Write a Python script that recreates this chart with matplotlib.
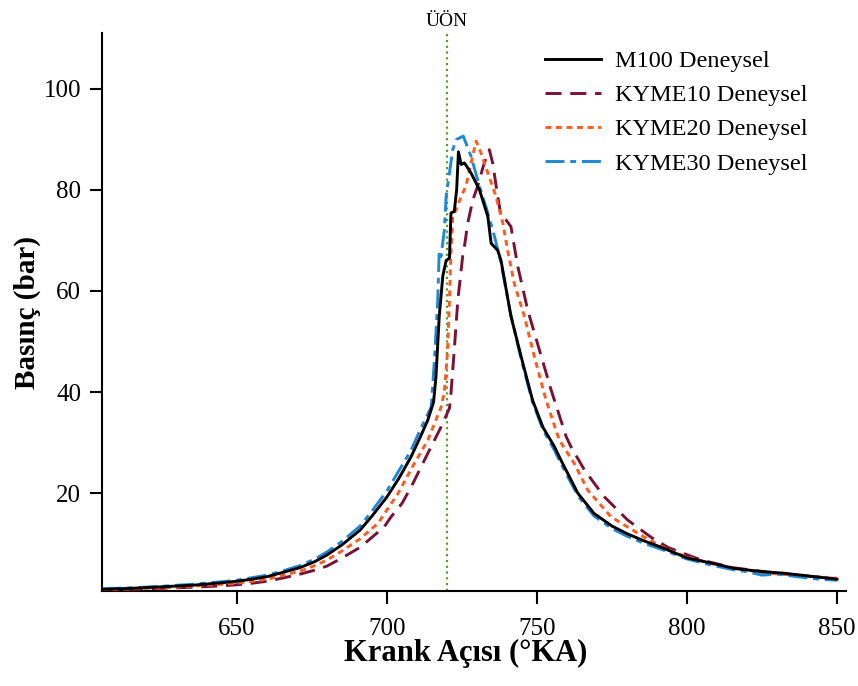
import numpy as np
import matplotlib
matplotlib.use('Agg')
import matplotlib.pyplot as plt

plt.rcParams['font.family'] = ['Liberation Serif', 'DejaVu Serif']

# M100 Deneysel
m100_x = [605, 615, 625, 635, 645, 650, 655, 660, 665, 671, 676, 680, 685, 691, 695, 700, 704, 708, 711,
          713.6, 715.5, 716.3, 717.4, 718.6, 719.7, 720.8, 721.3, 722.4, 723.2, 723.8, 724.7, 725.8, 728,
          730.8, 733.6, 734.7, 736.9, 738, 741.3, 744.7, 748.5, 752, 755.8, 758, 763.6, 769, 775, 780, 786,
          791, 800, 808, 816, 825, 832, 838, 844, 850]
m100_y = [1.0, 1.2, 1.5, 1.8, 2.3, 2.6, 3.0, 3.5, 4.3, 5.3, 6.5, 7.8, 9.8, 12.7, 15.5, 19.3, 23, 27.2, 31,
          34.5, 38, 43, 55, 63, 66, 66.5, 75.4, 75.7, 80, 87.5, 85, 85.3, 83.3,
          80, 74.7, 69.4, 68, 66, 55, 47, 38.4, 33, 29.2, 26.5, 20, 16, 13.5, 12, 10.5,
          9.4, 7.2, 6.2, 5.1, 4.5, 4.2, 3.8, 3.4, 3.0]

# KYME10 Deneysel
k10_x = [605, 615, 625, 635, 645, 650, 655, 660, 665, 671, 676, 680, 685, 691, 695, 699, 701.3, 705, 708,
         713.6, 718, 720.2, 720.8, 721.3, 722.4, 723.6, 725.2, 725.8, 726.9, 728.6, 730.2, 732.4, 734.1,
         735.2, 736.9, 738, 739.7, 741.3, 743, 743.6, 746.9, 750.8, 754.7, 759.7, 761.3, 765.8, 772.4,
         780.2, 788, 793.6, 797, 804.7, 815, 826.9, 838, 850]
k10_y = [0.8, 1.0, 1.2, 1.4, 1.7, 1.9, 2.2, 2.6, 3.2, 4.0, 4.8, 5.6, 7.2, 9.3, 11.3, 13.3, 15.3, 18, 21.2,
         27.9, 33.1, 36, 36.8, 39.7, 48.3, 58.2, 66.8, 68.8, 73.4, 78, 80.7, 85.3, 87.9,
         85.3, 78.7, 74.7, 74, 72.7, 66.8, 64.8, 56.2, 48.3, 40.4, 31.2, 29.2, 24.6, 19.3,
         14.7, 11.3, 9.3, 8.5, 6.8, 5.3, 4.4, 3.7, 3.1]

# KYME20 Deneysel
k20_x = [605, 615, 625, 635, 645, 650, 655, 660, 665, 671, 676, 680, 685, 691, 696.9, 703.6, 709.1, 713.6,
         718, 719.1, 720.2, 720.8, 721.3, 721.9, 723, 724.7, 726.3, 728, 729.7, 731.3, 733.6, 736.3, 738.6,
         740.2, 742.4, 745.8, 749.1, 753, 757.4, 762.4, 766.9, 774.7, 785.8, 793, 800, 810, 825, 838, 850]
k20_y = [0.9, 1.1, 1.3, 1.6, 2.0, 2.2, 2.6, 3.0, 3.7, 4.6, 5.7, 6.8, 8.6, 11, 14, 19.9, 25.9, 30.5,
         37, 40, 48.3, 58.2, 67.5, 74.7, 76, 78.7, 80.7, 85.3, 89.6, 87.3, 83.3, 78.7, 73.4,
         68, 61.5, 54.9, 47, 38.4, 30.5, 25.9, 20.6, 15.3, 11.3, 9.0, 7.4, 5.8, 4.3, 3.7, 3.2]

# KYME30 Deneysel
k30_x = [605, 615, 625, 635, 645, 650, 655, 660, 665, 671, 676, 680, 685, 691, 695, 700, 704, 708, 711,
         714.7, 715.8, 716.9, 717.4, 718, 719.1, 719.7, 721.9, 723, 725.4, 728, 730.8, 733.6, 735.8, 738,
         741, 744.7, 748.5, 752, 755.8, 758, 763.6, 769, 775, 780, 786, 791, 800, 808, 816, 820, 825, 830,
         838, 844, 850]
k30_y = [1.1, 1.3, 1.6, 2.0, 2.5, 2.8, 3.3, 3.8, 4.6, 5.7, 7.0, 8.4, 10.5, 13.5, 16.5, 20.5, 24.5, 28.5, 32.5,
         37, 46.3, 58.2, 68, 66.8, 72, 78.7, 87.9, 89.9, 90.6, 86.6, 80.7, 75.4, 70.8, 65.5,
         56, 46.5, 38, 32.5, 28.5, 25.8, 19.5, 15.5, 13, 11.5, 10, 9, 7, 5.8, 4.8, 4.5, 3.8, 4.0,
         3.4, 3.0, 2.8]

tdc = 720
xticks = [650, 700, 750, 800, 850]
yticks = [20, 40, 60, 80, 100]

fig = plt.figure(figsize=(8.58, 6.86), dpi=100)
ax = fig.add_axes([0.119, 0.138, 0.867, 0.814])

lw = 2.1
ax.axvline(tdc, color='#5a9e2a', linestyle=(0, (1, 1.6)), linewidth=1.6, zorder=1)
ax.plot(m100_x, m100_y, color='black', linewidth=lw, label='M100 Deneysel', zorder=5)
ax.plot(k10_x, k10_y, color='#7a1236', linewidth=lw, linestyle=(0, (5.5, 3)), label='KYME10 Deneysel', zorder=3)
ax.plot(k20_x, k20_y, color='#ff5a1f', linewidth=lw, linestyle=(0, (2, 1.6)), label='KYME20 Deneysel', zorder=4)
ax.plot(k30_x, k30_y, color='#1e88d2', linewidth=lw, linestyle=(0, (6.5, 2, 2, 2)), label='KYME30 Deneysel', zorder=4)

ax.set_xlim(605, 853)
ax.set_ylim(0.6, 111)
ax.set_xticks(xticks)
ax.set_yticks(yticks)
for s in ['top', 'right']:
    ax.spines[s].set_visible(False)
for s in ['left', 'bottom']:
    ax.spines[s].set_linewidth(1.5)
ax.tick_params(direction='out', length=9, width=1.5, labelsize=18)
ax.tick_params(axis='x', pad=10)
ax.tick_params(axis='y', pad=6)

ax.set_xlabel('Krank Açısı (°KA)', fontsize=22, fontweight='bold', labelpad=-1)
ax.xaxis.set_label_coords(0.489, -0.085)
ax.set_ylabel('Basınç (bar)', fontsize=21, fontweight='bold', labelpad=2)

ax.text(tdc, 1.005, 'ÜÖN', transform=ax.get_xaxis_transform(), ha='center', va='bottom', fontsize=14)

ax.legend(loc='upper left', bbox_to_anchor=(545 / 858, 1 - 50 / 686), bbox_transform=fig.transFigure,
          frameon=False, fontsize=17.5, handlelength=2.3, handletextpad=0.6, labelspacing=0.5,
          borderpad=0, borderaxespad=0)

fig.savefig('out.png', dpi=100)
